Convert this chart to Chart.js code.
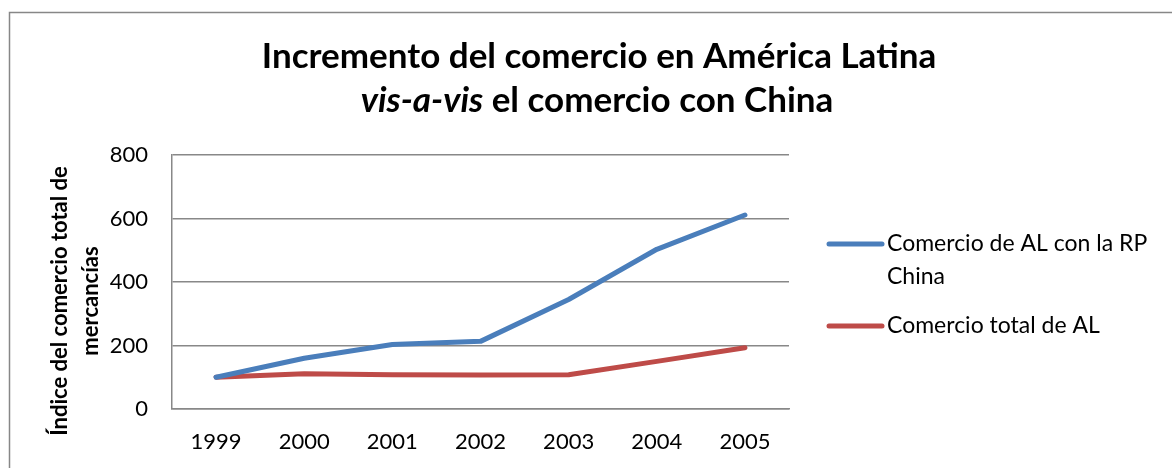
<!DOCTYPE html>
<html>
<head>
<meta charset="utf-8">
<script src="https://cdn.jsdelivr.net/npm/chart.js@4.4.1/dist/chart.umd.min.js"></script>
<style>
  html, body { margin: 0; padding: 0; background: #ffffff; overflow: hidden; }
  #wrap { position: relative; width: 1172px; height: 468px; }
  canvas { display: block; }
</style>
</head>
<body>
<div id="wrap"><canvas id="c" width="1172" height="468"></canvas></div>
<script>
const categories = ['1999', '2000', '2001', '2002', '2003', '2004', '2005'];
const chinaTrade = [100, 160, 203, 213, 345, 503, 611];
const totalTrade = [100, 111, 108, 107, 108, 150, 193];
const yTickValues = [0, 200, 400, 600, 800];
const seriesLabels = ['Comercio de AL con la RP China', 'Comercio total de AL'];
const legendLines = [['Comercio de AL con la RP', 'China'], ['Comercio total de AL']];
const titleLine1 = 'Incremento del comercio en América Latina';
const titleLine2Italic = 'vis-a-vis';
const titleLine2Rest = ' el comercio con China';
const yTitleLines = ['Índice del comercio total de', 'mercancías'];

const FONT = 'Lato, "Open Sans", "Liberation Sans", sans-serif';
const BLUE = '#4a7ebb';
const RED = '#be4b48';
const GRID = '#888888';

const decor = {
  id: 'decor',
  beforeDraw(chart) {
    const ctx = chart.ctx;
    ctx.save();
    ctx.strokeStyle = '#878787';
    ctx.lineWidth = 1.5;
    ctx.strokeRect(9.5, 12.5, 1300, 600);
    ctx.restore();
  },
  afterDraw(chart) {
    const ctx = chart.ctx;
    ctx.save();
    ctx.fillStyle = '#000000';
    ctx.textBaseline = 'middle';
    // Title line 1
    ctx.font = 'bold 35px ' + FONT;
    ctx.textAlign = 'center';
    ctx.fillText(titleLine1, 599, 57);
    // Title line 2 (mixed italic)
    ctx.textAlign = 'left';
    ctx.font = 'italic bold 35px ' + FONT;
    const w1 = ctx.measureText(titleLine2Italic).width;
    ctx.font = 'bold 35px ' + FONT;
    const w2 = ctx.measureText(titleLine2Rest).width;
    let x0 = 597 - (w1 + w2) / 2;
    ctx.font = 'italic bold 35px ' + FONT;
    ctx.fillText(titleLine2Italic, x0, 101);
    ctx.font = 'bold 35px ' + FONT;
    ctx.fillText(titleLine2Rest, x0 + w1, 101);

    // Y axis title
    ctx.save();
    ctx.font = 'bold 22px ' + FONT;
    ctx.textAlign = 'center';
    const yCenters = [60, 91];
    yTitleLines.forEach((t, i) => {
      ctx.save();
      ctx.translate(yCenters[i], 301);
      ctx.rotate(-Math.PI / 2);
      ctx.fillText(t, 0, 0);
      ctx.restore();
    });
    ctx.restore();

    // Legend
    ctx.font = '23px ' + FONT;
    ctx.textAlign = 'left';
    const itemY = [244, 326];
    chart.data.datasets.forEach((ds, i) => {
      const y = itemY[i];
      ctx.strokeStyle = ds.borderColor;
      ctx.lineWidth = 5;
      ctx.lineCap = 'round';
      ctx.beginPath();
      ctx.moveTo(829, y);
      ctx.lineTo(882, y);
      ctx.stroke();
      legendLines[i].forEach((t, j) => {
        ctx.fillText(t, 887, y + j * 33);
      });
    });
    ctx.restore();
  }
};

new Chart(document.getElementById('c'), {
  type: 'line',
  data: {
    labels: categories,
    datasets: [
      { label: seriesLabels[0], data: chinaTrade, borderColor: BLUE, backgroundColor: BLUE },
      { label: seriesLabels[1], data: totalTrade, borderColor: RED, backgroundColor: RED }
    ]
  },
  options: {
    responsive: false,
    animation: false,
    devicePixelRatio: 1,
    layout: { padding: { left: 20, right: 383, top: 155, bottom: 0 } },
    elements: {
      line: { borderWidth: 5, tension: 0, borderCapStyle: 'round', borderJoinStyle: 'round', fill: false },
      point: { radius: 0, hoverRadius: 0 }
    },
    plugins: {
      legend: { display: false },
      title: { display: false },
      tooltip: { enabled: false }
    },
    scales: {
      x: {
        offset: true,
        grid: { display: false, drawTicks: false },
        border: { display: true, color: GRID, width: 1.5 },
        ticks: { color: '#000000', font: { family: FONT, size: 22 }, padding: 20, maxRotation: 0 },
        afterFit(s) { s.height = 59; }
      },
      y: {
        min: 0,
        max: 800,
        afterBuildTicks(s) { s.ticks = yTickValues.map(v => ({ value: v })); },
        grid: { color: GRID, lineWidth: 1.5, drawTicks: false },
        border: { display: true, color: GRID, width: 1.5 },
        ticks: { color: '#000000', font: { family: FONT, size: 22 }, padding: 24 },
        afterFit(s) { s.width = 152; }
      }
    }
  },
  plugins: [decor]
});
</script>
</body>
</html>
